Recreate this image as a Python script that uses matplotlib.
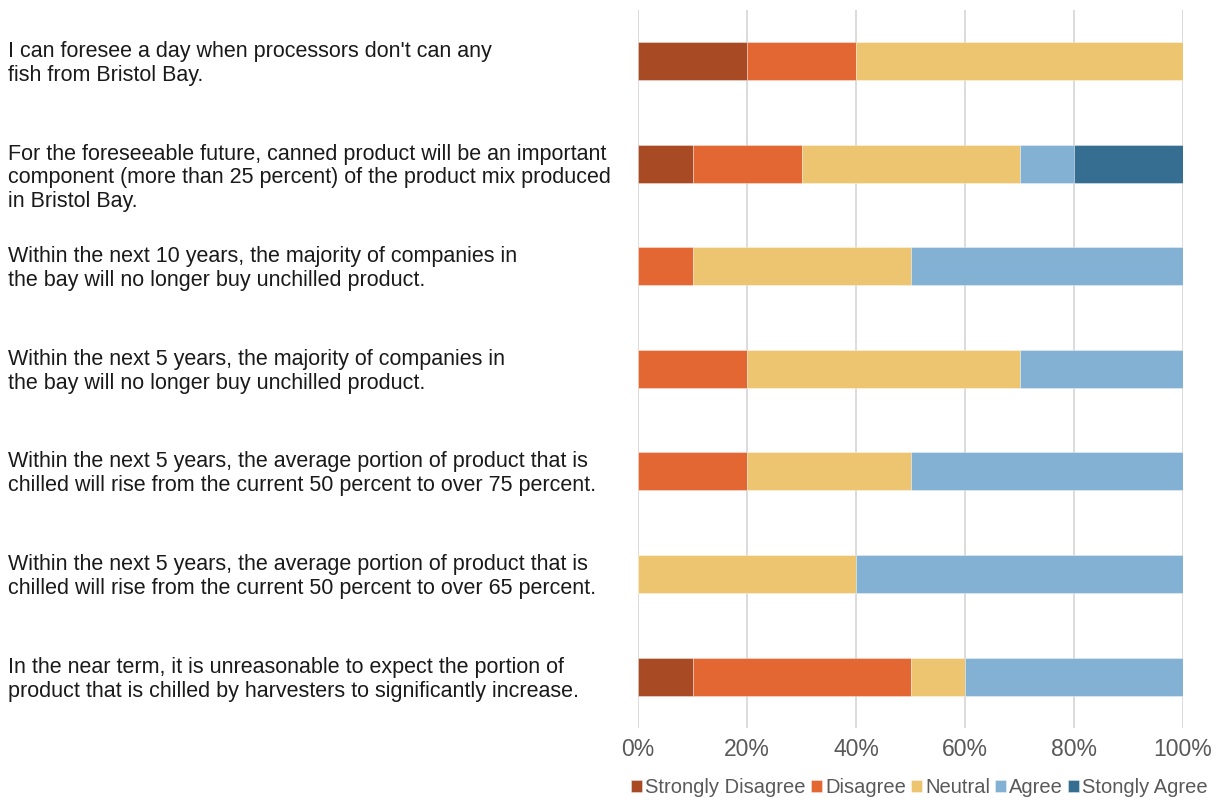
import matplotlib
matplotlib.use("Agg")
import matplotlib.pyplot as plt
from matplotlib.transforms import blended_transform_factory, offset_copy
import numpy as np

plt.rcParams['font.family'] = ['Liberation Sans', 'DejaVu Sans']

statements = [
    "I can foresee a day when processors don't can any\nfish from Bristol Bay.",
    "For the foreseeable future, canned product will be an important\ncomponent (more than 25 percent) of the product mix produced\nin Bristol Bay.",
    "Within the next 10 years, the majority of companies in\nthe bay will no longer buy unchilled product.",
    "Within the next 5 years, the majority of companies in\nthe bay will no longer buy unchilled product.",
    "Within the next 5 years, the average portion of product that is\nchilled will rise from the current 50 percent to over 75 percent.",
    "Within the next 5 years, the average portion of product that is\nchilled will rise from the current 50 percent to over 65 percent.",
    "In the near term, it is unreasonable to expect the portion of\nproduct that is chilled by harvesters to significantly increase.",
]

series_names = ["Strongly Disagree", "Disagree", "Neutral", "Agree", "Stongly Agree"]
strongly_disagree = [0.20, 0.10, 0.00, 0.00, 0.00, 0.00, 0.10]
disagree = [0.20, 0.20, 0.10, 0.20, 0.20, 0.00, 0.40]
neutral = [0.60, 0.40, 0.40, 0.50, 0.30, 0.40, 0.10]
agree = [0.00, 0.10, 0.50, 0.30, 0.50, 0.60, 0.40]
strongly_agree = [0.00, 0.20, 0.00, 0.00, 0.00, 0.00, 0.00]

colors = ["#A84B24", "#E26732", "#EDC470", "#82B1D3", "#356E91"]
series = [strongly_disagree, disagree, neutral, agree, strongly_agree]

fig = plt.figure(figsize=(12.26, 8.0), dpi=100)
ax = fig.add_axes([0.5204, 0.090, 0.4446, 0.898])

y = np.arange(len(statements))
left = np.zeros(len(statements))
for name, vals, col in zip(series_names, series, colors):
    vals = np.array(vals)
    ax.barh(y, vals, left=left, height=0.37, color=col, label=name,
            edgecolor=(1, 1, 1, 0.5), linewidth=0.5, zorder=3)
    left += vals

ax.set_xlim(0, 1)
ax.set_ylim(len(statements) - 0.5, -0.5)
ax.set_xticks(np.linspace(0, 1, 6))
ax.set_xticklabels([f"{int(v*100)}%" for v in np.linspace(0, 1, 6)],
                   color="#595959", fontsize=16.5)
ax.tick_params(axis='x', length=0, pad=7)
ax.set_yticks([])
ax.grid(axis='x', color="#D9D9D9", linewidth=1.3, zorder=0)
for s in ax.spines.values():
    s.set_visible(False)

trans = blended_transform_factory(fig.transFigure, ax.transData)
trans = offset_copy(trans, fig=fig, x=0, y=20, units='dots')
for yi, txt in zip(y, statements):
    ax.text(8 / 1226, yi, txt, transform=trans, ha='left', va='top',
            fontsize=15.5, color="#1a1a1a", linespacing=1.18)

fig.legend(loc='center', bbox_to_anchor=(0.750, 0.016), ncol=5, frameon=False,
           fontsize=14.5, labelcolor="#595959", handlelength=0.55,
           handleheight=0.55, handletextpad=0.15, columnspacing=0.25)

fig.savefig("out.png", dpi=100)
